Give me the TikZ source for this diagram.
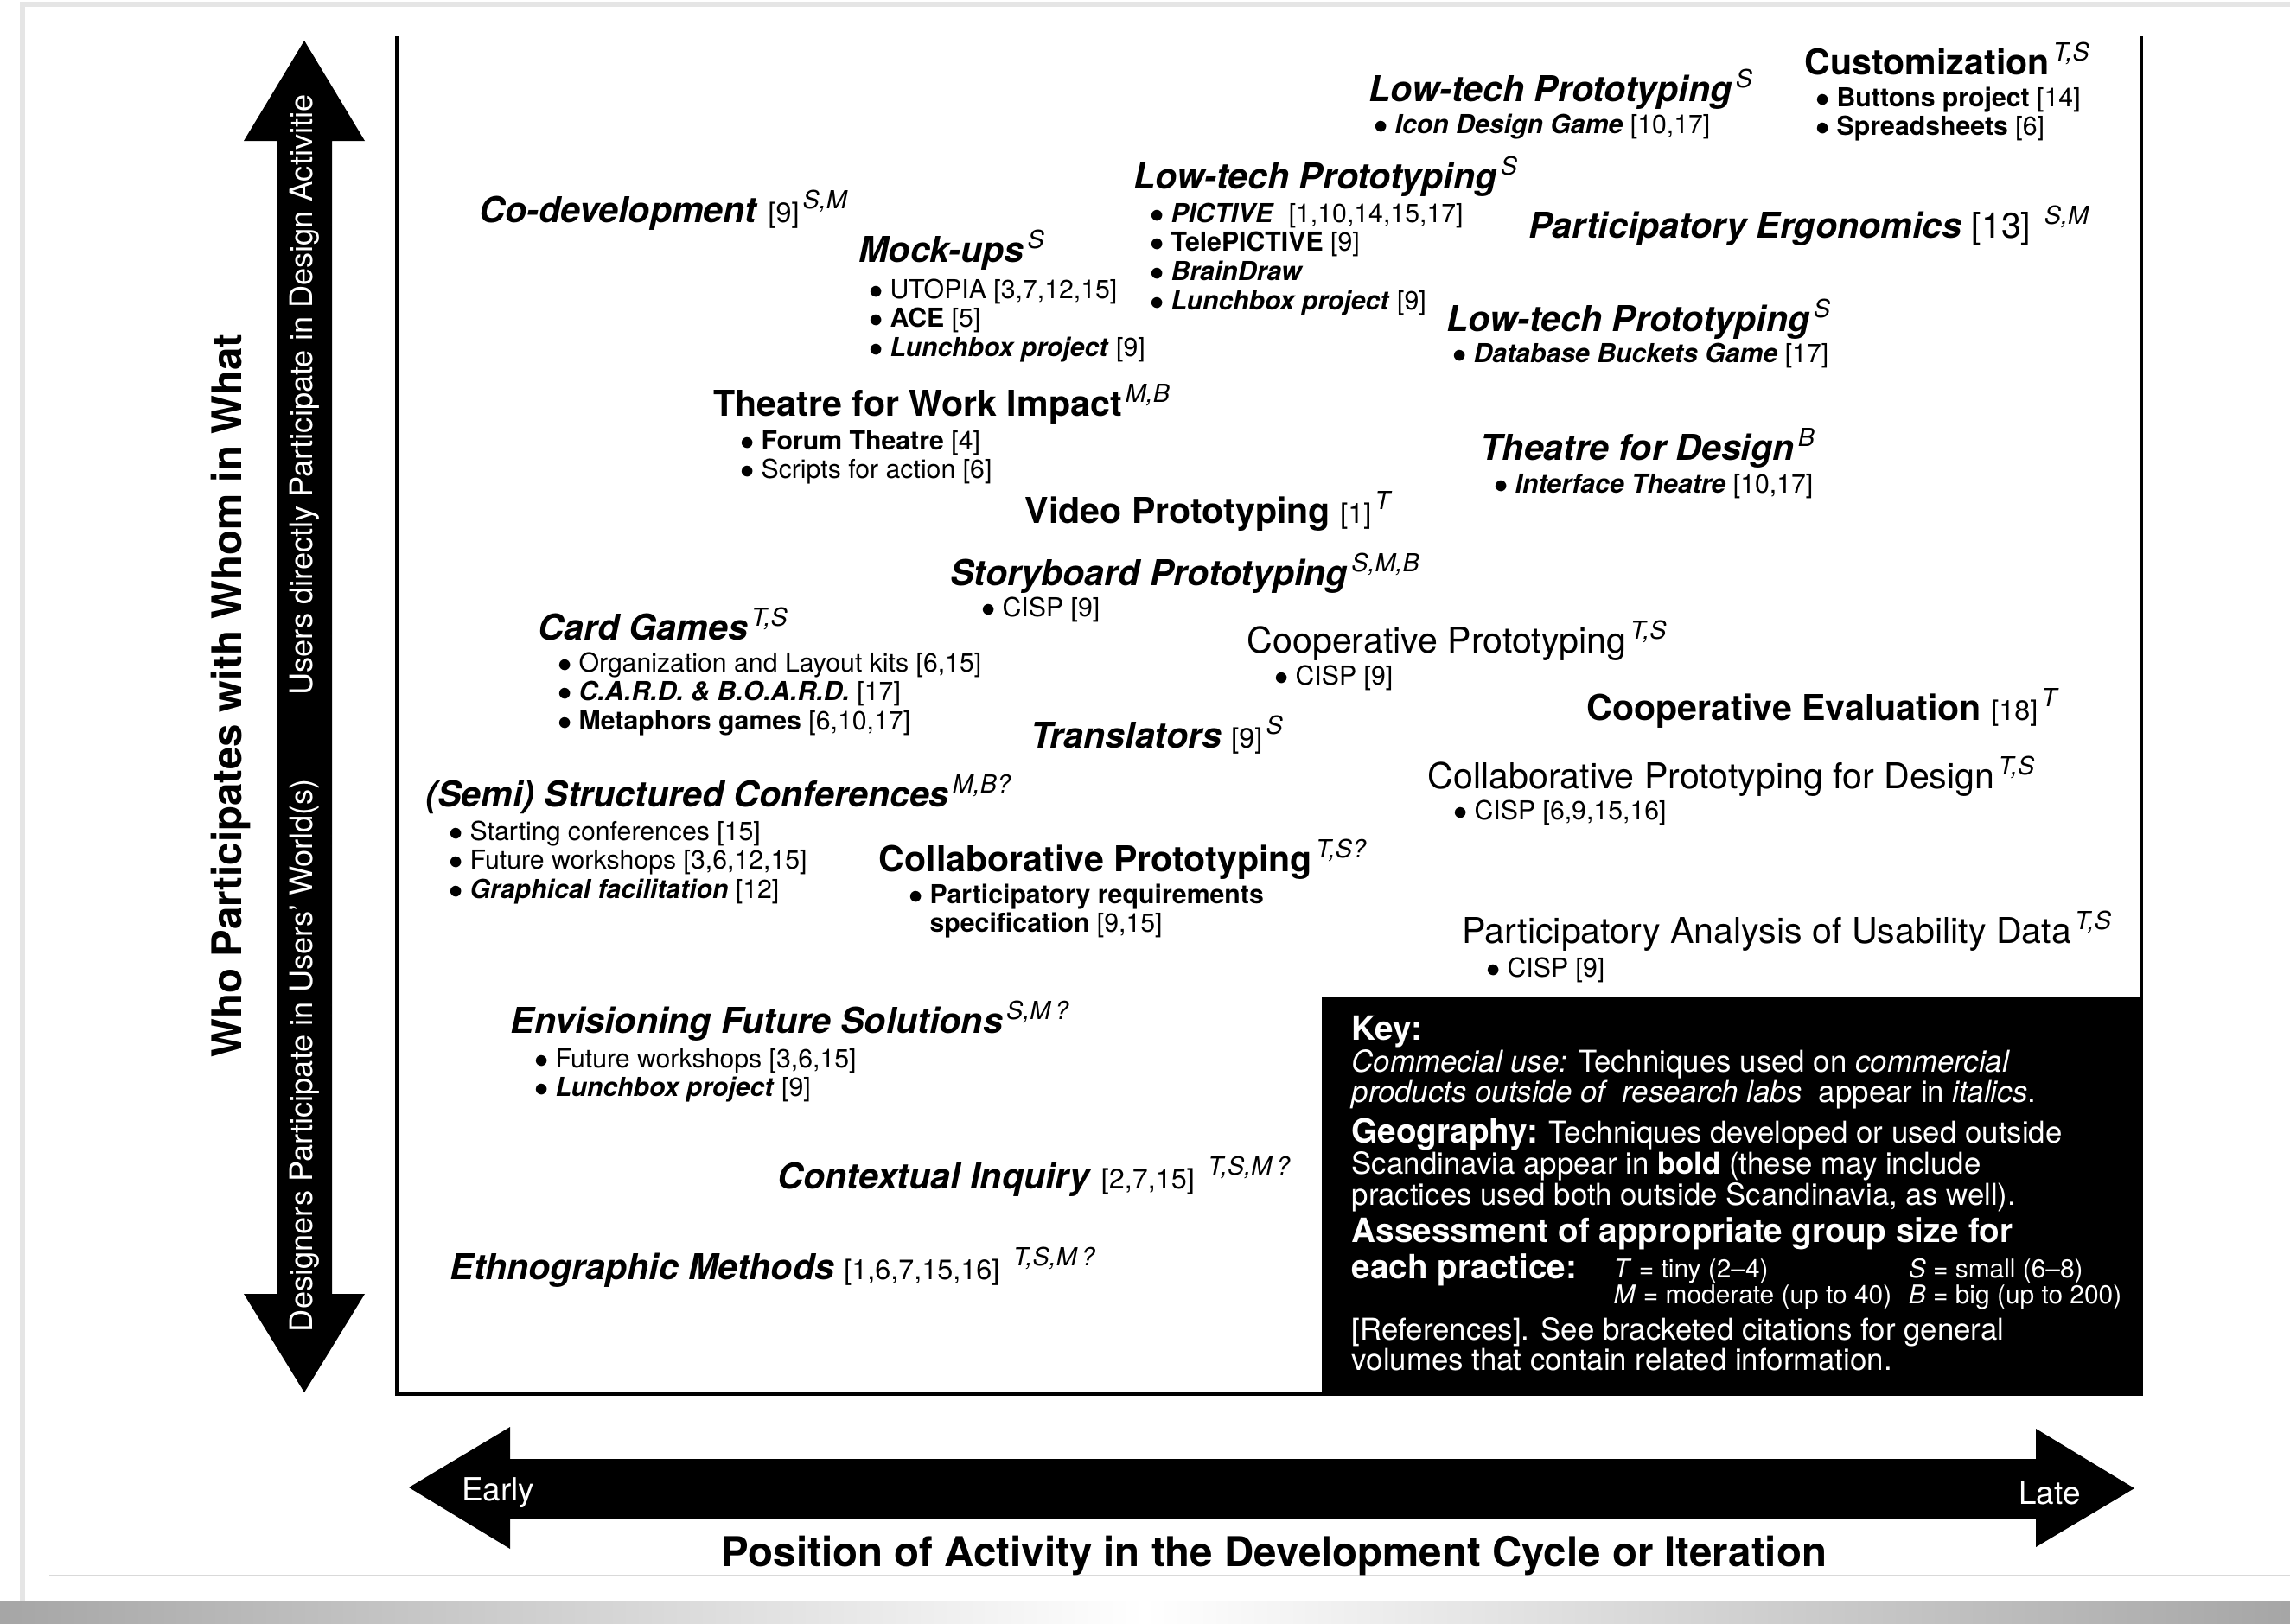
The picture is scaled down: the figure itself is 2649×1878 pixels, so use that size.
\documentclass[tikz,border=0pt]{standalone}
\usepackage{fontspec}
\setmainfont{TeX Gyre Heros}
\usepackage{tikz}
\tikzset{>=stealth}

\newcommand{\bi}[1]{\textbf{\textit{#1}}}
\newcommand{\gs}[1]{\kern1.2pt\textsuperscript{\mdseries\itshape #1}}
\newcommand{\rf}[1]{{\mdseries\upshape[#1]}}
\newcommand{\rfs}[1]{{\mdseries\upshape\fontsize{9.2}{10}\selectfont[#1]}}
\newcommand{\itm}[1]{\makebox[6.8pt][l]{$\bullet$}#1}
\newcommand{\rows}[1]{\begin{tabular}[t]{@{}l@{}}#1\end{tabular}}

\tikzset{
  ttl/.style={anchor=base west, inner sep=0pt, font=\fontsize{11.7}{14}\selectfont},
  lst/.style={anchor=base west, inner sep=0pt, font=\fontsize{8.6}{9.6}\selectfont},
  keyln/.style={anchor=base west, inner sep=0pt, text=white, font=\fontsize{9.9}{9.6}\selectfont},
  keyhd/.style={keyln, font=\fontsize{11}{12.2}\selectfont\bfseries},
  axlbl/.style={inner sep=0pt, font=\fontsize{13.5}{15}\selectfont\bfseries},
  arrtxt/.style={inner sep=0pt, text=white, font=\fontsize{10.3}{12}\selectfont},
  frame/.style={line width=1.2pt}
}

\begin{document}
\begin{tikzpicture}[x=0.01cm, y=-0.01cm]
        \useasboundingbox (0,0) rectangle (2649,1878);
        % page
        \fill[white] (0,0) rectangle (2649,1878);
        \shade[left color=gray!70, right color=gray!70, middle color=white] (0,1852) rectangle (2649,1878);
        \draw[gray!20, line width=1.5pt] (26,1852) -- (26,5) -- (2649,5);
        \draw[gray!30, line width=0.8pt] (57,1823) -- (2649,1823);

        % axes
        \fill (352,47) -- (422,163) -- (384,163) -- (384,1497) -- (422,1497) -- (352,1611)
          -- (282,1497) -- (320,1497) -- (320,163) -- (282,163) -- cycle;
        \fill (473,1721) -- (590,1651) -- (590,1688) -- (2355,1688) -- (2355,1653) -- (2469,1722)
          -- (2355,1790) -- (2355,1757) -- (590,1757) -- (590,1792) -- cycle;
        \node[axlbl, rotate=90] (who) at (267,805) {Who Participates with Whom in What};
        \node[arrtxt, rotate=90] (users) at (352,457) {Users directly Participate in Design Activitie};
        \node[arrtxt, rotate=90] (designers) at (352,1221) {Designers Participate in Users' World(s)};
        \node[arrtxt, font=\fontsize{10.5}{12}\selectfont] (early) at (576,1727) {Early};
        \node[arrtxt, font=\fontsize{10.5}{12}\selectfont] (late) at (2371,1727) {Late};
        \node[axlbl] (position) at (1474,1800) {Position of Activity in the Development Cycle or Iteration};

        \draw[frame] (459,42) -- (459,1613) -- (2477,1613) -- (2477,42);

        % techniques
        \node[ttl] (lowtechA) at (1583,117) {\bi{Low-tech Prototyping}\gs{S}};
        \node[lst] (lowtechAi) at (1589,154) {\itm{\bi{Icon Design Game} \rf{10,17}}};
        \node[ttl] (custom) at (2087,86) {\textbf{Customization}\gs{T,S}};
        \node[lst] (customi) at (2100,123) {\rows{\itm{\textbf{Buttons project} \rf{14}}\\ \itm{\textbf{Spreadsheets} \rf{6}}}};
        \node[ttl] (codev) at (554,257) {\bi{Co-development} \rfs{9}\gs{S,M}};
        \node[ttl] (lowtechB) at (1311,218) {\bi{Low-tech Prototyping}\gs{S}};
        \node[lst] (lowtechBi) at (1330,257) {\rows{\itm{\bi{PICTIVE} \ \rf{1,10,14,15,17}}\\ \itm{\textbf{TelePICTIVE} \rf{9}}\\ \itm{\bi{BrainDraw}}\\ \itm{\bi{Lunchbox project} \rf{9}}}};
        \node[ttl] (ergo) at (1768,275) {\bi{Participatory Ergonomics} \rf{13} \gs{S,M}};
        \node[ttl] (mockups) at (993,303) {\bi{Mock-ups}\gs{S}};
        \node[lst] (mockupsi) at (1005,345) {\rows{\itm{UTOPIA \rf{3,7,12,15}}\\ \itm{\textbf{ACE} \rf{5}}\\ \itm{\bi{Lunchbox project} \rf{9}}}};
        \node[ttl] (lowtechC) at (1673,383) {\bi{Low-tech Prototyping}\gs{S}};
        \node[lst] (lowtechCi) at (1680,419) {\itm{\bi{Database Buckets Game} \rf{17}}};
        \node[ttl] (workimp) at (825,481) {\textbf{Theatre for Work Impact}\gs{M,B}};
        \node[lst] (workimpi) at (856,520) {\rows{\itm{\textbf{Forum Theatre} \rf{4}}\\ \itm{Scripts for action \rf{6}}}};
        \node[ttl] (thdesign) at (1712,532) {\bi{Theatre for Design}\gs{B}};
        \node[lst] (thdesigni) at (1728,570) {\itm{\bi{Interface Theatre} \rf{10,17}}};
        \node[ttl] (video) at (1185,605) {\textbf{Video Prototyping} \rfs{1}\gs{T}};
        \node[ttl] (story) at (1099,677) {\bi{Storyboard Prototyping}\gs{S,M,B}};
        \node[lst] (storyi) at (1135,713) {\itm{CISP \rf{9}}};
        \node[ttl] (cards) at (622,740) {\bi{Card Games}\gs{T,S}};
        \node[lst] (cardsi) at (645,777) {\rows{\itm{Organization and Layout kits \rf{6,15}}\\ \itm{\bi{C.A.R.D. \& B.O.A.R.D.} \rf{17}}\\ \itm{\textbf{Metaphors games} \rf{6,10,17}}}};
        \node[ttl] (coopproto) at (1442,755) {Cooperative Prototyping\gs{T,S}};
        \node[lst] (coopprotoi) at (1474,792) {\itm{CISP \rf{9}}};
        \node[ttl] (coopeval) at (1835,833) {\textbf{Cooperative Evaluation} \rfs{18}\gs{T}};
        \node[ttl] (transl) at (1192,865) {\bi{Translators} \rfs{9}\gs{S}};
        \node[ttl] (collabdes) at (1651,912) {Collaborative Prototyping for Design\gs{T,S}};
        \node[lst] (collabdesi) at (1681,948) {\itm{CISP \rf{6,9,15,16}}};
        \node[ttl] (semi) at (492,933) {\bi{(Semi) Structured Conferences}\gs{M,B?}};
        \node[lst] (semii) at (519,972) {\rows{\itm{Starting conferences \rf{15}}\\ \itm{Future workshops \rf{3,6,12,15}}\\ \itm{\bi{Graphical facilitation} \rf{12}}}};
        \node[ttl] (collab) at (1016,1008) {\textbf{Collaborative Prototyping}\gs{T,S?}};
        \node[lst] (collabi) at (1051,1045) {\rows{\itm{\textbf{Participatory requirements}}\\ \hspace*{6.8pt}\textbf{specification} \rf{9,15}}};
        \node[ttl] (usability) at (1691,1091) {Participatory Analysis of Usability Data\gs{T,S}};
        \node[lst] (usabilityi) at (1719,1130) {\itm{CISP \rf{9}}};
        \node[ttl] (envision) at (590,1195) {\bi{Envisioning Future Solutions}\gs{S,M\,?}};
        \node[lst] (envisioni) at (618,1235) {\rows{\itm{Future workshops \rf{3,6,15}}\\ \itm{\bi{Lunchbox project} \rf{9}}}};
        \node[ttl] (context) at (899,1375) {\bi{Contextual Inquiry} \rfs{2,7,15} \gs{T,S,M\,?}};
        \node[ttl] (ethno) at (520,1480) {\bi{Ethnographic Methods} \rfs{1,6,7,15,16} \gs{T,S,M\,?}};

        % key
        \fill (1529,1153) rectangle (2477,1612);
        \node[keyhd] (keyhead) at (1563,1203) {Key:};
        \node[keyln] (keyuse) at (1563,1240) {\rows{\textit{Commecial use:} Techniques used on \textit{commercial}\\ \textit{products outside of \ research labs} \ appear in \textit{italics}.}};
        \node[keyln] (keygeo) at (1563,1322) {\rows{{\fontsize{11}{12}\selectfont\bfseries Geography:} Techniques developed or used outside\\ Scandinavia appear in \textbf{bold} (these may include\\ practices used both outside Scandinavia, as well).}};
        \node[keyhd] (keysize) at (1563,1437) {\rows{Assessment of appropriate group size for\\ each practice:}};
        \node[keyln, font=\fontsize{8.5}{8.3}\selectfont] (sizes) at (1866,1478) {\begin{tabular}[t]{@{}p{97pt}@{}l@{}}\textit{T} = tiny (2--4) & \textit{S} = small (6--8)\\ \textit{M} = moderate (up to 40) & \textit{B} = big (up to 200)\end{tabular}};
        \node[keyln] (keyref) at (1563,1550) {\rows{[References]. See bracketed citations for general\\ volumes that contain related information.}};
      \end{tikzpicture}
\end{document}
